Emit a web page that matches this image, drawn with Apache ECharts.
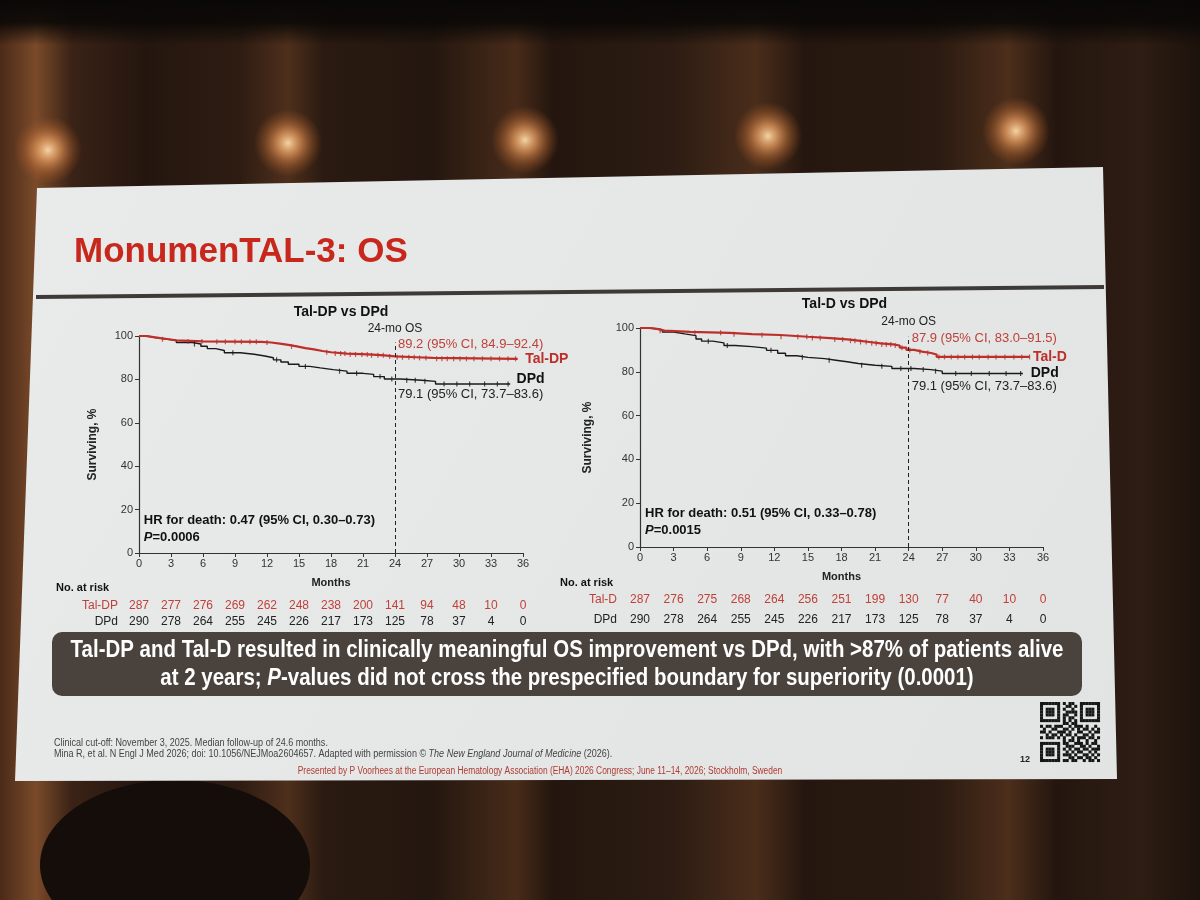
<!DOCTYPE html>
<html lang="en">
<head>
<meta charset="UTF-8">
<title>MonumenTAL-3: OS</title>
<style>
  html, body { margin: 0; padding: 0; background: #241811; }
  #main { width: 1200px; height: 900px; }
</style>
</head>
<body>
<div id="main"></div>
<script src="https://cdn.jsdelivr.net/npm/echarts@6/dist/echarts.min.js"></script>
<script>
// ---- data ----
var monthTicks = [0, 3, 6, 9, 12, 15, 18, 21, 24, 27, 30, 33, 36];

// Tal-DP vs DPd (left panel)
var leftTalTime = [0, 0.6, 1.2, 2.0, 2.8, 3.5, 6.0, 11.5, 12.4, 13.2, 14.0, 14.8, 15.6, 16.4, 17.2, 18.0, 19.5, 21.5, 23.0, 24.0, 26.0, 27.6, 35.5];
var leftTalSurv = [100, 99.6, 99.0, 98.5, 98.0, 97.5, 97.3, 97.0, 96.5, 95.9, 95.2, 94.4, 93.8, 93.1, 92.5, 91.9, 91.5, 91.1, 90.6, 90.2, 89.9, 89.5, 89.5];
var leftDpdTime = [0, 0.8, 1.5, 2.5, 3.5, 5.0, 5.8, 6.4, 7.2, 8.0, 9.5, 10.8, 11.8, 12.6, 13.3, 14.0, 15.0, 16.0, 17.0, 18.2, 19.5, 21.0, 22.0, 23.0, 24.5, 26.5, 27.8, 34.8];
var leftDpdSurv = [100, 99.3, 98.6, 98.0, 97.0, 96.3, 95.3, 94.2, 93.3, 92.3, 91.6, 90.8, 90.0, 89.0, 88.0, 87.0, 86.0, 85.3, 84.5, 83.8, 82.8, 82.3, 81.3, 80.2, 79.6, 79.1, 77.9, 77.9];
var leftTalCensor = [2.2, 4.6, 5.9, 7.3, 8.1, 9.0, 9.6, 10.4, 11.0, 12.0, 14.3, 17.6, 18.4, 18.9, 19.3, 19.8, 20.3, 20.9, 21.4, 21.8, 22.4, 22.9, 23.5, 24.2, 24.7, 25.3, 25.8, 26.3, 26.9, 27.9, 28.4, 28.9, 29.5, 30.1, 30.7, 31.4, 32.2, 33.0, 33.8, 34.6, 35.3];
var leftDpdCensor = [5.2, 8.8, 12.9, 15.6, 18.8, 20.4, 22.6, 23.7, 25.1, 25.9, 26.8, 28.6, 29.8, 31.0, 32.4, 33.6, 34.6];
var leftRiskTal = [287, 277, 276, 269, 262, 248, 238, 200, 141, 94, 48, 10, 0];
var leftRiskDpd = [290, 278, 264, 255, 245, 226, 217, 173, 125, 78, 37, 4, 0];

// Tal-D vs DPd (right panel)
var rightTalTime = [0, 0.8, 1.5, 2.2, 4.5, 8.0, 10.0, 12.5, 15.0, 17.0, 18.5, 19.5, 20.5, 21.5, 22.6, 23.2, 23.8, 24.5, 25.2, 26.0, 26.5, 34.8];
var rightTalSurv = [100, 99.6, 98.8, 98.2, 97.8, 97.2, 96.8, 96.0, 95.4, 94.8, 94.2, 93.6, 93.0, 92.5, 92.0, 91.0, 90.0, 89.2, 88.6, 87.9, 86.8, 86.8];
var rightDpdTime = [0, 1.0, 2.0, 3.0, 4.0, 5.0, 5.5, 6.5, 7.5, 8.5, 10.0, 11.3, 12.3, 13.0, 14.0, 15.0, 16.5, 17.5, 18.5, 19.5, 21.0, 22.5, 24.5, 26.0, 27.0, 34.2];
var rightDpdSurv = [100, 99.2, 98.2, 97.3, 96.5, 95.0, 94.0, 93.2, 92.0, 91.5, 90.8, 89.8, 88.5, 87.3, 86.6, 86.0, 85.3, 84.6, 83.8, 83.0, 82.5, 81.5, 81.0, 80.3, 79.2, 79.2];
var rightTalCensor = [1.8, 4.9, 7.2, 8.4, 10.9, 12.6, 14.1, 14.9, 15.4, 16.1, 17.4, 18.1, 18.8, 19.2, 19.7, 20.2, 20.7, 21.1, 21.6, 22.0, 22.4, 22.8, 23.4, 24.1, 25.0, 25.7, 26.7, 27.2, 27.8, 28.4, 29.0, 29.7, 30.3, 31.1, 31.8, 32.6, 33.4, 34.1, 34.8];
var rightDpdCensor = [6.1, 7.8, 11.7, 14.5, 16.9, 19.8, 21.6, 23.3, 24.2, 25.3, 26.4, 28.2, 29.6, 31.2, 32.7, 34.0];
var rightRiskTal = [287, 276, 275, 268, 264, 256, 251, 199, 130, 77, 40, 10, 0];
var rightRiskDpd = [290, 278, 264, 255, 245, 226, 217, 173, 125, 78, 37, 4, 0];

// QR code pattern (decoration)
var qrRows = [
  "111111101011001111111",
  "100000100110101000001",
  "101110101001001011101",
  "101110100111101011101",
  "101110101100101011101",
  "100000101011001000001",
  "111111101010101111111",
  "000000001101100000000",
  "101101110010111010010",
  "010011001101010110101",
  "110100111010011001011",
  "001011010110100110100",
  "101110101001011101101",
  "000000001011010010010",
  "111111101100111010110",
  "100000100111001101001",
  "101110101010110110111",
  "101110100101011001010",
  "101110101110100110101",
  "100000100011011011010",
  "111111101101100101101"
];

var RED = '#bd2f2a';
var RED_TXT = '#c0403a';
var FONT = '"Liberation Sans", Arial, sans-serif';

function pairs(t, s) {
  return t.map(function (v, i) { return [v, s[i]]; });
}
// survival at time t for censor ticks
function survAt(t, times, surv) {
  var v = surv[0];
  for (var i = 0; i < times.length; i++) if (times[i] <= t) v = surv[i];
  return v;
}
function censorPts(c, times, surv) {
  return c.map(function (t) { return [t, survAt(t, times, surv)]; });
}

var chart = echarts.init(document.getElementById('main'));

function xAx(gi) {
  return {
    gridIndex: gi, type: 'value', min: 0, max: 36, interval: 3,
    name: 'Months', nameLocation: 'middle', nameGap: 24,
    nameTextStyle: { fontFamily: FONT, fontSize: 11, fontWeight: 'bold', color: '#222' },
    axisLine: { show: true, onZero: false, lineStyle: { color: '#333', width: 1.2 } },
    axisTick: { show: true, length: 4, lineStyle: { color: '#333' } },
    axisLabel: { fontFamily: FONT, fontSize: 11, color: '#333', margin: 5 },
    splitLine: { show: false }
  };
}
function yAx(gi, gap) {
  return {
    gridIndex: gi, type: 'value', min: 0, max: 100, interval: 20,
    name: 'Surviving, %', nameLocation: 'middle', nameGap: gap, nameRotate: 90,
    nameTextStyle: { fontFamily: FONT, fontSize: 12, fontWeight: 'bold', color: '#222' },
    axisLine: { show: true, lineStyle: { color: '#333', width: 1.2 } },
    axisTick: { show: true, length: 4, lineStyle: { color: '#333' } },
    axisLabel: { fontFamily: FONT, fontSize: 11, color: '#333', margin: 6 },
    splitLine: { show: false }
  };
}
function kmLine(name, gi, data, color, width) {
  return {
    name: name, type: 'line', step: 'end', xAxisIndex: gi, yAxisIndex: gi,
    data: data, showSymbol: false, symbol: 'none', silent: true,
    lineStyle: { color: color, width: width }, z: color === RED ? 4 : 3
  };
}
function censor(gi, data, color) {
  return {
    type: 'scatter', xAxisIndex: gi, yAxisIndex: gi, data: data,
    symbol: 'rect', symbolSize: [1.2, 5], silent: true,
    itemStyle: { color: color }, z: color === RED ? 5 : 4
  };
}
function dash24(gi, top) {
  return {
    type: 'line', xAxisIndex: gi, yAxisIndex: gi, data: [], silent: true,
    markLine: {
      symbol: 'none', silent: true, label: { show: false },
      lineStyle: { color: '#222', type: [4, 3], width: 1 },
      data: [[{ coord: [24, 0] }, { coord: [24, top] }]]
    }
  };
}

chart.setOption({
  animation: false,
  grid: [
    { left: 139, top: 336, width: 384, height: 217 },
    { left: 640, top: 328, width: 403, height: 219 }
  ],
  xAxis: [xAx(0), xAx(1)],
  yAxis: [yAx(0, 40), yAx(1, 46)],
  series: [
    kmLine('DPd', 0, pairs(leftDpdTime, leftDpdSurv), '#1a1a1a', 1.4),
    kmLine('Tal-DP', 0, pairs(leftTalTime, leftTalSurv), RED, 2.2),
    censor(0, censorPts(leftDpdCensor, leftDpdTime, leftDpdSurv), '#1a1a1a'),
    censor(0, censorPts(leftTalCensor, leftTalTime, leftTalSurv), RED),
    dash24(0, 97),
    kmLine('DPd', 1, pairs(rightDpdTime, rightDpdSurv), '#1a1a1a', 1.4),
    kmLine('Tal-D', 1, pairs(rightTalTime, rightTalSurv), RED, 2.2),
    censor(1, censorPts(rightDpdCensor, rightDpdTime, rightDpdSurv), '#1a1a1a'),
    censor(1, censorPts(rightTalCensor, rightTalTime, rightTalSurv), RED),
    dash24(1, 96)
  ]
});

// ---- decoration and text placed after axes exist ----
function px(gi, x, y) { return chart.convertToPixel({ gridIndex: gi }, [x, y]); }
function txt(x, y, s, o) {
  o = o || {};
  return {
    type: 'text', x: x, y: y, z: o.z || 20, silent: true,
    scaleX: o.sx || 1,
    style: {
      text: s, fill: o.fill || '#222', fontFamily: FONT,
      fontSize: o.size || 12, fontWeight: o.weight || 'normal',
      fontStyle: o.italic ? 'italic' : 'normal',
      textAlign: o.align || 'left', textVerticalAlign: 'middle', rich: o.rich
    }
  };
}

var g = [];
// room / curtain background
g.push({
  type: 'rect', z: -10, silent: true, shape: { x: 0, y: 0, width: 1200, height: 900 },
  style: {
    fill: new echarts.graphic.LinearGradient(0, 0, 1, 0, [
      { offset: 0.00, color: '#4a2a18' }, { offset: 0.03, color: '#7a4a2a' },
      { offset: 0.06, color: '#3a2216' }, { offset: 0.12, color: '#24160f' },
      { offset: 0.20, color: '#2e1c12' }, { offset: 0.24, color: '#4e2f1c' },
      { offset: 0.27, color: '#2a1a11' }, { offset: 0.36, color: '#24170f' },
      { offset: 0.43, color: '#482b1a' }, { offset: 0.46, color: '#24160e' },
      { offset: 0.56, color: '#2c1c13' }, { offset: 0.63, color: '#4a2d1b' },
      { offset: 0.67, color: '#25170f' }, { offset: 0.78, color: '#2a1a11' },
      { offset: 0.84, color: '#4c2e1b' }, { offset: 0.88, color: '#24160f' },
      { offset: 0.95, color: '#2e1d13' }, { offset: 1.00, color: '#1c120c' }
    ])
  }
});
g.push({
  type: 'rect', z: -10, silent: true, shape: { x: 0, y: 0, width: 1200, height: 45 },
  style: { fill: new echarts.graphic.LinearGradient(0, 0, 0, 1, [
    { offset: 0, color: 'rgba(10,8,6,1)' }, { offset: 0.5, color: 'rgba(10,8,6,0.9)' },
    { offset: 1, color: 'rgba(10,8,6,0)' }]) }
});
// stage lamps (tall glows)
[[48, 150], [288, 143], [525, 140], [768, 136], [1016, 131]].forEach(function (p) {
  g.push({
    type: 'rect', z: -9, silent: true,
    shape: { x: p[0] - 34, y: p[1] - 62, width: 68, height: 124, r: 30 },
    style: { fill: new echarts.graphic.RadialGradient(0.5, 0.5, 0.5, [
      { offset: 0, color: 'rgba(255,220,170,0.95)' },
      { offset: 0.35, color: 'rgba(225,150,90,0.75)' },
      { offset: 0.75, color: 'rgba(170,95,45,0.35)' },
      { offset: 1, color: 'rgba(150,85,40,0)' }]) }
  });
});
// head silhouette in front row
g.push({
  type: 'ellipse', z: -8, silent: true, shape: { cx: 175, cy: 865, rx: 135, ry: 85 },
  style: { fill: '#140d09' }
});

// slide
g.push({
  type: 'polygon', z: -7, silent: true,
  shape: { points: [[37, 188], [1103, 167], [1117, 779], [15, 781]] },
  style: { fill: new echarts.graphic.LinearGradient(0, 0, 1, 1, [
    { offset: 0, color: '#e8ebea' }, { offset: 1, color: '#e1e4e3' }]) }
});
g.push({
  type: 'polyline', z: -6, silent: true,
  shape: { points: [[36, 297], [1104, 287]] },
  style: { stroke: '#3d3a38', lineWidth: 4 }
});
g.push(txt(74, 252, 'MonumenTAL-3: OS', { fill: '#c8271c', size: 35, weight: 'bold' }));

// panel titles
g.push(txt(px(0, 18, 0)[0] + 10, 312, 'Tal-DP vs DPd', { size: 14, weight: 'bold', align: 'center', fill: '#111' }));
g.push(txt(px(1, 18, 0)[0] + 3, 304, 'Tal-D vs DPd', { size: 14, weight: 'bold', align: 'center', fill: '#111' }));

// panel annotations
function panelNotes(gi, talLab, talCI, hr, pval, pos) {
  var d = px(gi, 24, 0)[0];
  g.push(txt(d, px(gi, 24, pos.os)[1], '24-mo OS', { size: 12, align: 'center', fill: '#222' }));
  g.push(txt(d + 3, px(gi, 24, pos.talCI)[1], talCI, { size: 13, fill: RED_TXT }));
  var tp = px(gi, pos.talX, pos.talY);
  g.push(txt(tp[0], tp[1], talLab, { size: 14, weight: 'bold', fill: RED }));
  var dp = px(gi, pos.dpdX, pos.dpdY);
  g.push(txt(dp[0], dp[1], 'DPd', { size: 14, weight: 'bold', fill: '#111' }));
  g.push(txt(d + 3, px(gi, 24, pos.dpdCI)[1], '79.1 (95% CI, 73.7\u201383.6)', { size: 13, fill: '#222' }));
  var hp = px(gi, 0.45, 15.2);
  g.push(txt(hp[0], hp[1], hr, { size: 13, weight: 'bold', fill: '#111' }));
  var pp = px(gi, 0.45, 7.4);
  g.push(txt(pp[0], pp[1], '{i|P}=' + pval, {
    size: 13, weight: 'bold', fill: '#111',
    rich: { i: { fontFamily: FONT, fontSize: 13, fontWeight: 'bold', fontStyle: 'italic', fill: '#111' } }
  }));
}
panelNotes(0, 'Tal-DP', '89.2 (95% CI, 84.9\u201392.4)', 'HR for death: 0.47 (95% CI, 0.30\u20130.73)', '0.0006',
  { os: 103.2, talCI: 95.9, talX: 36.2, talY: 89.4, dpdX: 35.4, dpdY: 80.2, dpdCI: 73.3 });
panelNotes(1, 'Tal-D', '87.9 (95% CI, 83.0\u201391.5)', 'HR for death: 0.51 (95% CI, 0.33\u20130.78)', '0.0015',
  { os: 102.7, talCI: 95.4, talX: 35.1, talY: 86.8, dpdX: 34.9, dpdY: 79.5, dpdCI: 73.1 });

// number at risk tables
function riskTable(gi, talName, tal, dpd, yHead, yTal, yDpd, headX, labX) {
  g.push(txt(headX, yHead, 'No. at risk', { size: 11, weight: 'bold', fill: '#111' }));
  g.push(txt(labX, yTal, talName, { size: 12, fill: RED_TXT, align: 'right' }));
  g.push(txt(labX, yDpd, 'DPd', { size: 12, fill: '#222', align: 'right' }));
  monthTicks.forEach(function (m, i) {
    var x = px(gi, m, 0)[0];
    g.push(txt(x, yTal, String(tal[i]), { size: 12, fill: RED_TXT, align: 'center' }));
    g.push(txt(x, yDpd, String(dpd[i]), { size: 12, fill: '#222', align: 'center' }));
  });
}
riskTable(0, 'Tal-DP', leftRiskTal, leftRiskDpd, 588, 606, 622, 56, 118);
riskTable(1, 'Tal-D', rightRiskTal, rightRiskDpd, 583, 600, 620, 560, 617);

// key message banner (condensed bold, like Arial Narrow)
g.push({
  type: 'rect', z: 10, silent: true,
  shape: { x: 52, y: 632, width: 1030, height: 64, r: 10 },
  style: { fill: '#4a423c' }
});
g.push(txt(567, 651, 'Tal-DP and Tal-D resulted in clinically meaningful OS improvement vs DPd, with >87% of patients alive',
  { size: 23, weight: 'bold', fill: '#ffffff', align: 'center', sx: 0.89 }));
g.push(txt(567, 679, 'at 2 years; {i|P}-values did not cross the prespecified boundary for superiority (0.0001)', {
  size: 23, weight: 'bold', fill: '#ffffff', align: 'center', sx: 0.89,
  rich: { i: { fontFamily: FONT, fontSize: 23, fontWeight: 'bold', fontStyle: 'italic', fill: '#ffffff' } }
}));

// footnotes
g.push(txt(54, 743, 'Clinical cut-off: November 3, 2025. Median follow-up of 24.6 months.', { size: 10.5, fill: '#444', sx: 0.86 }));
g.push(txt(54, 754, 'Mina R, et al. N Engl J Med 2026; doi: 10.1056/NEJMoa2604657. Adapted with permission \u00a9 {i|The New England Journal of Medicine} (2026).', {
  size: 10.5, fill: '#444', sx: 0.86,
  rich: { i: { fontFamily: FONT, fontSize: 10.5, fontStyle: 'italic', fill: '#444' } }
}));
g.push(txt(540, 771, 'Presented by P Voorhees at the European Hematology Association (EHA) 2026 Congress; June 11\u201314, 2026; Stockholm, Sweden',
  { size: 10, fill: '#b03a32', align: 'center', sx: 0.84 }));
g.push(txt(1030, 760, '12', { size: 9, weight: 'bold', fill: '#222', align: 'right' }));

// QR code
var qx = 1040, qy = 702, qs = 2.85;
qrRows.forEach(function (row, r) {
  for (var c = 0; c < row.length; c++) {
    if (row.charAt(c) === '1') {
      g.push({ type: 'rect', z: 10, silent: true,
        shape: { x: qx + c * qs, y: qy + r * qs, width: qs + 0.2, height: qs + 0.2 },
        style: { fill: '#161616' } });
    }
  }
});

chart.setOption({ graphic: { elements: g } });
</script>
</body>
</html>
